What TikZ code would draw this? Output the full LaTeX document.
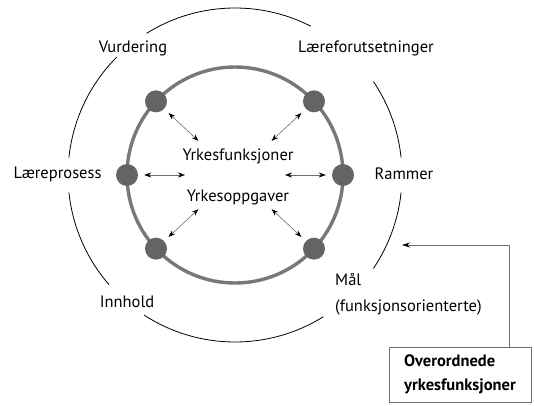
\documentclass[tikz,border=0pt]{standalone}
\usepackage{fontspec}
\setmainfont{PT Sans}
\usetikzlibrary{arrows.meta,calc}
\definecolor{ringgray}{RGB}{120,120,120}
\definecolor{dotgray}{RGB}{100,100,100}
\definecolor{linegray}{RGB}{110,110,110}
\begin{document}
\begin{tikzpicture}[x=1pt,y=1pt,
  lbl/.style={font=\fontsize{16.5}{19}\selectfont, inner sep=0pt},
  arcline/.style={line width=0.8pt, black},
  ring/.style={line width=3.4pt, ringgray},
  dot/.style={circle, fill=dotgray, minimum size=22pt, inner sep=0pt},
  biarrow/.style={line width=0.6pt, linegray, {Stealth[black,length=7pt,width=5pt]}-{Stealth[black,length=7pt,width=5pt]}},
  conn/.style={line width=0.7pt, linegray, -{Stealth[black,length=8pt,width=5pt]}},
  obox/.style={draw=linegray, line width=0.8pt, align=left, font=\bfseries\fontsize{16.5}{24}\selectfont, inner xsep=11pt, inner ysep=6pt, minimum width=142pt, minimum height=55pt}]
\useasboundingbox (0,0) rectangle (534,405);
\coordinate (C) at (235,230);
\draw[ring] (C) circle[radius=108];
\foreach \a/\s in {63/122, 135/174, 186/221, 237/302, 326/354, 6/34}
  \draw[arcline] ([shift={(\a:167)}]C) arc[start angle=\a, end angle=\s, radius=167];
\foreach \n/\a in {d0/0, d1/43, d2/137, d3/180, d4/223, d5/317}
  \node[dot] (\n) at ([shift={(\a:108)}]C) {};
\foreach \n in {d0,d1,d2,d3,d4,d5}
  \draw[biarrow, shorten <=6pt, shorten >=50pt] (\n) -- (C);
\node[lbl] (vur) at (133,357) {Vurdering};
\node[lbl] (lfu) at (366,357) {Læreforutsetninger};
\node[lbl] (lpr) at (57.5,231) {Læreprosess};
\node[lbl] (ram) at (404,231) {Rammer};
\node[lbl] (yf) at (238,249) {Yrkesfunksjoner};
\node[lbl] (yo) at (238,208) {Yrkesoppgaver};
\node[lbl] (inn) at (127,103) {Innhold};
\node[lbl, anchor=west] (mal) at (335,125) {Mål};
\node[lbl, anchor=west] (fo) at (335,98) {(funksjonsorienterte)};
\node[obox] (ob) at (460,30.5) {Overordnede\\yrkesfunksjoner};
\coordinate (tip) at (402,160);
\coordinate (bend) at (509,160);
\draw[conn] (ob.north -| bend) -- (bend) -- (tip);
\end{tikzpicture}
\end{document}
